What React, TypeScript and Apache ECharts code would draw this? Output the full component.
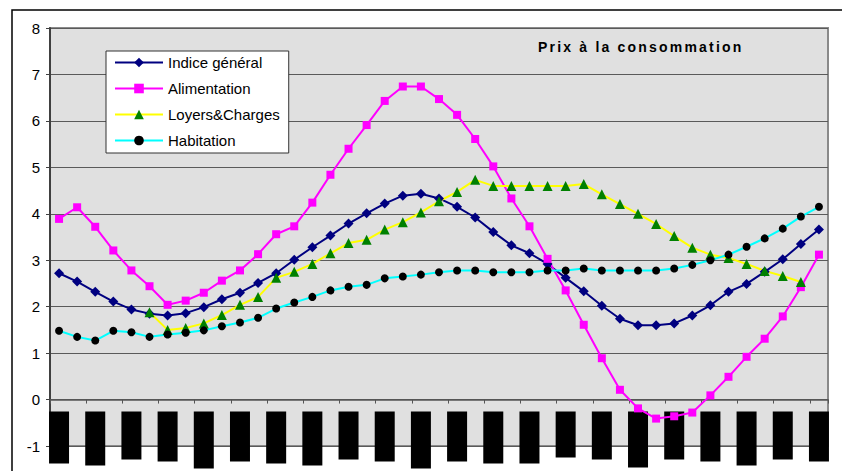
import React, { useEffect, useRef } from "react";
import * as echarts from "echarts";

const categories = [
  "1", "2", "3", "4", "5", "6", "7", "8", "9", "10", "11", "12", "13", "14", "15",
  "16", "17", "18", "19", "20", "21", "22", "23", "24", "25", "26", "27", "28", "29",
  "30", "31", "32", "33", "34", "35", "36", "37", "38", "39", "40", "41", "42", "43",
];

const indiceGeneral = [
  2.72, 2.54, 2.32, 2.11, 1.94, 1.85, 1.81, 1.86, 1.99, 2.16, 2.3,
  2.51, 2.72, 3.01, 3.28, 3.53, 3.79, 4.01, 4.22, 4.39, 4.43, 4.33,
  4.15, 3.92, 3.61, 3.32, 3.15, 2.92, 2.62, 2.33, 2.02, 1.74,
  1.6, 1.6, 1.64, 1.81, 2.03, 2.32, 2.49, 2.75, 3.02, 3.35, 3.66,
];

const alimentation = [
  3.89, 4.14, 3.72, 3.21, 2.78, 2.44, 2.04, 2.13, 2.3, 2.56, 2.78,
  3.13, 3.56, 3.73, 4.24, 4.84, 5.4, 5.91, 6.43, 6.74, 6.74, 6.47,
  6.13, 5.61, 5.02, 4.33, 3.73, 3.03, 2.35, 1.61, 0.89, 0.21,
  -0.19, -0.41, -0.36, -0.28, 0.09, 0.49, 0.92, 1.31, 1.79, 2.42, 3.12,
];

const loyersCharges = [
  null, null, null, null, null, 1.88, 1.5, 1.54, 1.64, 1.82, 2.04,
  2.21, 2.62, 2.75, 2.92, 3.15, 3.37, 3.44, 3.66, 3.82, 4.03, 4.27,
  4.47, 4.73, 4.6, 4.6, 4.6, 4.6, 4.6, 4.64, 4.42, 4.21,
  4.0, 3.78, 3.52, 3.27, 3.12, 3.05, 2.92, 2.77, 2.66, 2.53, null,
];

const habitation = [
  1.48, 1.35, 1.27, 1.48, 1.45, 1.35, 1.4, 1.44, 1.49, 1.58, 1.66,
  1.76, 1.96, 2.09, 2.21, 2.35, 2.43, 2.47, 2.61, 2.65, 2.69, 2.74,
  2.78, 2.78, 2.74, 2.74, 2.74, 2.78, 2.78, 2.82, 2.78, 2.78,
  2.78, 2.78, 2.82, 2.9, 3.0, 3.12, 3.29, 3.47, 3.68, 3.94, 4.15,
];

const seriesNames = ["Indice général", "Alimentation", "Loyers&Charges", "Habitation"];
const chartTitle = "Prix à la consommation";

const yMin = -1;
const yMax = 8;

// heights of the black (masked) category label boxes, one per shown label
const maskHeights = [52, 54, 48, 50, 57, 50, 52, 54, 48, 50, 57, 50, 52, 52, 46, 48, 56, 48, 50, 54, 48, 50];

const W = 842;
const H = 471;
const GRID_TOP = 28;
const GRID_BOTTOM = 25;

export default function App() {
  const ref = useRef<HTMLDivElement>(null);

  useEffect(() => {
    if (!ref.current) return;
    const chart = echarts.init(ref.current, null, { renderer: "svg" });

    const rich: Record<string, any> = {};
    maskHeights.forEach((h, i) => {
      rich["m" + i] = { width: 20, height: h, backgroundColor: "#000000" };
    });

    const font = "'Liberation Sans', Arial, sans-serif";
    // move the category axis up to the zero line of the value axis
    const plotH = H - GRID_TOP - GRID_BOTTOM;
    const zeroOffset = -(plotH * (0 - yMin)) / (yMax - yMin);

    chart.setOption({
      animation: false,
      backgroundColor: "#ffffff",
      title: {
        text: chartTitle,
        left: 538,
        top: 40,
        padding: 0,
        textStyle: {
          fontFamily: font,
          fontSize: 14,
          fontWeight: "bold",
          color: "#000000",
        },
      },
      graphic: [
        {
          type: "rect",
          shape: { x: 12, y: 10, width: 900, height: 500 },
          style: { fill: "none", stroke: "#000000", lineWidth: 1.5 },
          silent: true,
          z: 0,
        },
      ],
      legend: {
        data: seriesNames,
        orient: "vertical",
        left: 106,
        top: 51,
        itemWidth: 48,
        itemHeight: 12,
        itemGap: 9,
        padding: [3, 9, 4, 8],
        backgroundColor: "#ffffff",
        borderColor: "#333333",
        borderWidth: 1,
        borderRadius: 0,
        textStyle: {
          fontFamily: font,
          fontSize: 15,
          color: "#000000",
          lineHeight: 17,
        },
      },
      grid: {
        left: 50,
        top: GRID_TOP,
        right: 14,
        bottom: GRID_BOTTOM,
        show: true,
        backgroundColor: "#e0e0e0",
        borderColor: "#8a8a8a",
        borderWidth: 2,
        containLabel: false,
        outerBoundsMode: "none",
      },
      xAxis: {
        type: "category",
        data: categories,
        boundaryGap: true,
        position: "bottom",
        offset: zeroOffset,
        axisLine: { onZero: false, lineStyle: { color: "#555555", width: 1.5 } },
        axisTick: { show: true, interval: 1, length: 4, lineStyle: { color: "#555555" } },
        axisLabel: {
          interval: 1,
          margin: 12,
          formatter: (_v: string, idx: number) => `{m${Math.floor(idx / 2)}| }`,
          rich,
        },
        splitLine: { show: false },
      },
      yAxis: {
        type: "value",
        min: yMin,
        max: yMax,
        interval: 1,
        axisLine: { show: true, onZero: false, lineStyle: { color: "#404040", width: 2 } },
        axisTick: { show: true, length: 4, lineStyle: { color: "#404040" } },
        axisLabel: {
          fontFamily: font,
          fontSize: 15,
          color: "#000000",
          margin: 10,
        },
        splitLine: { show: true, lineStyle: { color: "#5a5a5a", width: 1 } },
      },
      series: [
        {
          name: seriesNames[0],
          type: "line",
          data: indiceGeneral,
          symbol: "diamond",
          symbolSize: 10,
          lineStyle: { color: "#000080", width: 2 },
          itemStyle: { color: "#000080" },
        },
        {
          name: seriesNames[1],
          type: "line",
          data: alimentation,
          symbol: "rect",
          symbolSize: 8,
          lineStyle: { color: "#ff00ff", width: 2 },
          itemStyle: { color: "#ff00ff" },
        },
        {
          name: seriesNames[2],
          type: "line",
          data: loyersCharges,
          symbol: "triangle",
          symbolSize: 10,
          connectNulls: false,
          lineStyle: { color: "#ffff00", width: 2 },
          itemStyle: { color: "#008000" },
        },
        {
          name: seriesNames[3],
          type: "line",
          data: habitation,
          symbol: "circle",
          symbolSize: 8,
          lineStyle: { color: "#00ffff", width: 2 },
          itemStyle: { color: "#000000" },
        },
      ],
    });

    const texts = ref.current.querySelectorAll("text");
    texts.forEach((t) => {
      if (t.textContent === chartTitle) {
        (t as SVGTextElement).style.letterSpacing = "2.2px";
      }
    });

    return () => chart.dispose();
  }, []);

  return (
    <div
      ref={ref}
      style={{ position: "fixed", left: 0, top: 0, width: W, height: H }}
    />
  );
}
